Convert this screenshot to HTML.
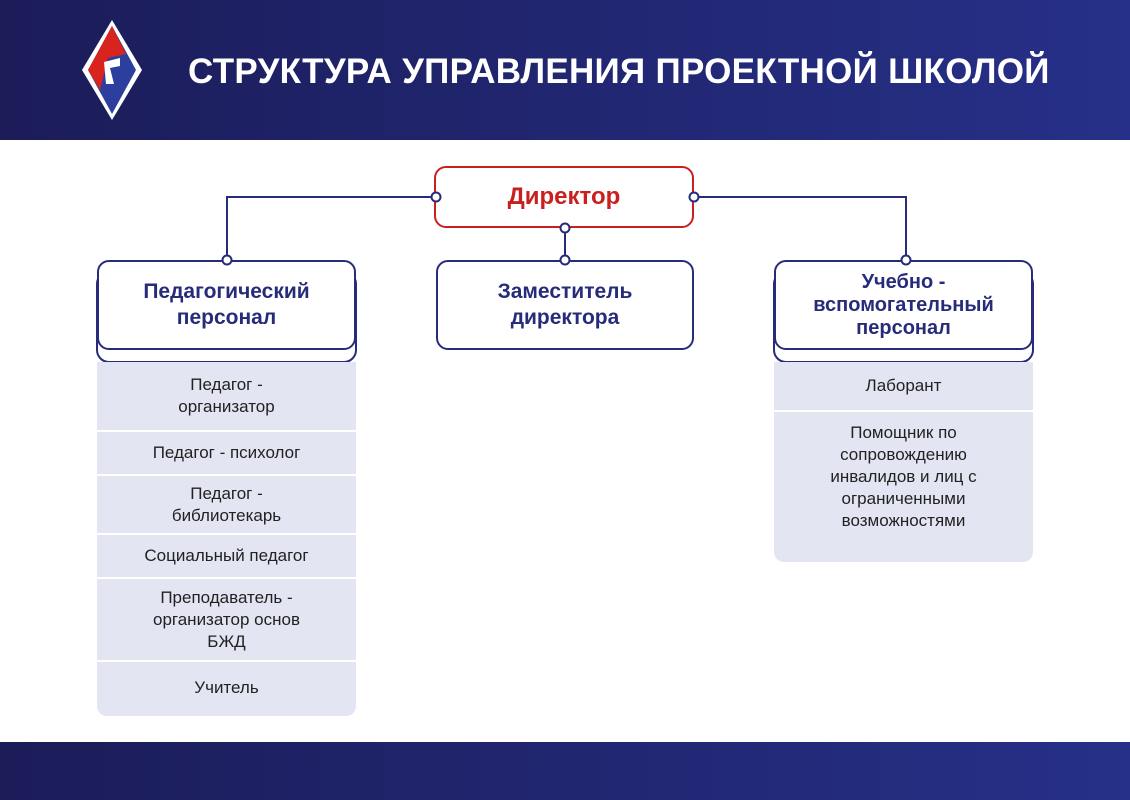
<!DOCTYPE html>
<html><head><meta charset="utf-8"><style>
body{margin:0;width:1130px;height:800px;position:relative;background:#fff;font-family:"Liberation Sans",sans-serif;overflow:hidden}
.hdr{position:absolute;left:0;top:0;width:1130px;height:140px;background:linear-gradient(90deg,#1b1c58,#263088)}
.ftr{position:absolute;left:0;top:742px;width:1130px;height:58px;background:linear-gradient(90deg,#1b1c58,#263088)}
.title{position:absolute;left:188px;top:52px;color:#fff;font-size:35px;font-weight:bold;letter-spacing:0.3px;white-space:nowrap}
.box{position:absolute;box-sizing:border-box;border:2px solid #262c7a;border-radius:12px;background:#fff;display:flex;align-items:center;justify-content:center;text-align:center;color:#262c7a;font-weight:bold;font-size:21px;line-height:26px}
.list{position:absolute;background:#e3e5f2;border-radius:0 0 10px 10px}
.row{position:absolute;left:0;right:0;display:flex;align-items:center;justify-content:center;text-align:center;color:#222;font-size:17px;line-height:22px;border-bottom:2px solid #fff}
</style></head><body>
<div class="hdr"></div>
<svg style="position:absolute;left:80px;top:18px" width="64" height="104" viewBox="0 0 64 104">
<polygon points="32,2 62,52 32,102 2,52" fill="#fff"/>
<polygon points="32,8 56,52 32,96 8,52" fill="#2d3f9e"/>
<polygon points="32,8 8,52 20,72 28,40 46,36" fill="#d8231f"/>
<polygon points="24,44 40,40 40,48 30,50 34,66 26,66" fill="#fff"/>
</svg>
<div class="title">СТРУКТУРА УПРАВЛЕНИЯ ПРОЕКТНОЙ ШКОЛОЙ</div>

<svg style="position:absolute;left:0;top:0" width="1130" height="800">
<g stroke="#262c7a" stroke-width="2" fill="none">
<polyline points="436,197 227,197 227,260"/>
<polyline points="694,197 906,197 906,260"/>
<line x1="565" y1="228" x2="565" y2="260"/>
<rect x="97" y="272" width="259" height="90" rx="12" fill="#fff"/>
<rect x="774" y="272" width="259" height="90" rx="12" fill="#fff"/>
</g>
</svg>
<div class="list" style="left:97px;top:362px;width:259px;height:354px">
<div class="row" style="top:0;height:68px">Педагог -<br>организатор</div>
<div class="row" style="top:70px;height:42px">Педагог - психолог</div>
<div class="row" style="top:114px;height:57px">Педагог -<br>библиотекарь</div>
<div class="row" style="top:173px;height:42px">Социальный педагог</div>
<div class="row" style="top:217px;height:81px">Преподаватель -<br>организатор основ<br>БЖД</div>
<div class="row" style="top:300px;height:52px;border:0">Учитель</div>
</div>
<div class="list" style="left:774px;top:362px;width:259px;height:200px">
<div class="row" style="top:0;height:48px">Лаборант</div>
<div class="row" style="top:50px;height:130px;align-items:flex-start;padding-top:10px;box-sizing:border-box;border:0">Помощник по<br>сопровождению<br>инвалидов и лиц с<br>ограниченными<br>возможностями</div>
</div>
<div class="box" style="left:97px;top:260px;width:259px;height:90px">Педагогический<br>персонал</div>
<div class="box" style="left:436px;top:260px;width:258px;height:90px">Заместитель<br>директора</div>
<div class="box" style="left:774px;top:260px;width:259px;height:90px;font-size:20px;line-height:23px">Учебно -<br>вспомогательный<br>персонал</div>
<div class="box" style="left:434px;top:166px;width:260px;height:62px;border-color:#c8201e;color:#c8201e;font-size:24px">Директор</div>
<svg style="position:absolute;left:0;top:0" width="1130" height="800">
<g stroke="#262c7a" stroke-width="2" fill="#fff">
<circle cx="436" cy="197" r="4.5"/><circle cx="694" cy="197" r="4.5"/>
<circle cx="227" cy="260" r="4.5"/><circle cx="906" cy="260" r="4.5"/>
<circle cx="565" cy="228" r="4.5"/><circle cx="565" cy="260" r="4.5"/>
</g></svg>
<div class="ftr"></div>
</body></html>
